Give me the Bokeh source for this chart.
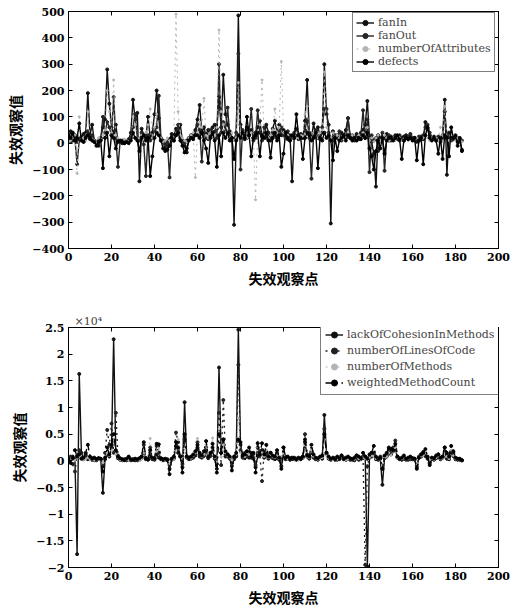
from bokeh.plotting import figure
from bokeh.layouts import column
from bokeh.models import (LinearAxis, FixedTicker, CustomJSTickFormatter, Range1d)
from bokeh.embed import file_html
from bokeh.resources import INLINE

# ---------------- data: top chart ----------------
x_top = list(range(0, 184))
fanIn = [20, 45, 10, 30, 5, 15, 25, 35, 40, 190,
         30, 70, 10, 5, -10, 20, 60, 90, 280, 150,
         60, 40, 70, 10, 5, 0, 10, 5, 15, 40,
         165, 90, 115, -145, 55, 30, 20, 100, 20, 40,
         110, 200, 95, 10, 5, -20, 0, 15, 35, 30,
         55, 40, 70, 10, -10, -35, 20, 30, 25, 50,
         90, 145, 40, 60, 35, 50, 25, 60, 70, 55,
         175, 60, 260, 110, 70, 45, 20, -310, 15, 485,
         70, 40, 15, 60, 30, 50, 20, 40, 60, 85,
         25, 30, 70, 40, 10, 55, 85, 40, 70, 30,
         50, 40, 15, 30, -145, 20, 55, 30, 35, 20,
         85, 240, 40, 20, 75, 25, 60, 30, 40, 300,
         110, 70, -305, 45, 20, 30, 15, 40, 25, 50,
         95, 30, 15, 20, 35, 25, 40, 50, 70, 160,
         20, 5, -40, -165, 30, 20, 15, 20, 35, 10,
         25, 20, 30, 15, 10, 20, 25, 30, 20, 35,
         15, 20, 5, 10, 25, 15, 80, 55, 30, 20,
         25, 10, 20, 5, 30, 165, -120, 40, 20, 15,
         20, 5, 10, -25]
fanOut = [10, 5, 30, 15, -80, 10, 20, 5, 25, 45,
          15, 30, 5, 0, 10, 15, 100, 40, 80, 60,
          30, 175, 20, -90, 5, 10, 0, 5, 10, 20,
          60, 110, 20, 10, 40, -5, -125, 30, 10, 20,
          50, 60, 180, 20, 10, -5, 5, -130, 20, 10,
          30, 70, 20, 5, 0, 10, 15, 20, 30, 40,
          70, 50, -70, 40, 20, 15, 50, 30, 45, 20,
          300, 40, 80, 50, 135, 30, 10, 15, 40, 340,
          -100, 50, 30, 20, 40, 130, 10, 20, 125, 40,
          10, 60, 20, 35, 25, 40, 30, 20, 45, 60,
          30, 20, 45, 10, 20, 40, 30, 15, 25, 30,
          50, 90, 20, -135, 30, 50, 20, 15, 60, 130,
          130, 40, 20, 10, 30, 20, 45, 10, 30, 20,
          95, 20, 30, 10, 25, 15, 30, 125, 20, 90,
          -110, 30, 10, 20, -30, 15, 40, -105, 20, 30,
          10, 15, 25, 20, 30, 15, 10, 20, 25, 30,
          20, 10, 15, 25, 20, 30, 60, 70, 40, 20,
          15, 20, 25, 10, 20, 120, 30, 20, 10, 20,
          15, 20, 5, 10]
numberOfAttributes = [5, 10, 20, 30, -115, 100, 15, 20, 10, 120,
                      20, 15, 10, 5, 20, 10, 30, 50, 200, 120,
                      40, 240, 30, 20, 10, 5, 15, 10, 5, 10,
                      100, 70, 10, 20, 30, 15, 40, 70, 130, 20,
                      60, 110, 40, 20, 5, 10, 20, 10, 15, 20,
                      490, 120, 30, 20, 10, 5, 20, 30, 40, -130,
                      40, 80, 60, 170, 30, 20, 40, 20, 30, 60,
                      430, 120, 70, 40, 30, 20, 40, 10, 20, 230,
                      20, 30, 40, 20, 30, 40, 20, -215, 40, 70,
                      240, 30, 40, 20, 30, 50, 130, 40, 60, 310,
                      40, 20, 30, 15, 20, 30, 40, 20, 30, 25,
                      110, 140, 30, 20, 40, 30, 20, 40, 50, 270,
                      60, 30, 20, 40, 20, 30, 20, 15, 30, 20,
                      40, 20, 30, 20, 15, 30, 20, 40, 30, 60,
                      10, 20, 5, 20, 30, 10, 20, 30, 20, 10,
                      15, 20, 10, 25, 20, 10, 15, 20, 10, 20,
                      10, 15, 20, 10, 15, 20, 30, 20, 10, 20,
                      15, 20, 10, 60, 30, 140, 20, 10, 60, 20,
                      10, 20, 10, 5]
defects = [30, 20, 40, 10, 20, 75, 10, 5, 20, 30,
           20, 10, 5, -10, 5, 10, -95, 20, 40, -50,
           30, 20, -20, 5, 10, 5, 0, 5, 0, 10,
           40, 20, 10, -30, 20, 30, 10, 20, -125, -50,
           20, 40, 30, 10, -20, -30, -25, -10, 20, 10,
           30, 40, 10, -10, -35, -20, 10, 20, 15, 30,
           30, 20, 40, 10, -20, -75, 20, 40, 10, -90,
           30, -50, 40, 20, 40, 10, 20, -60, 10, 30,
           20, 40, 20, 100, 30, -50, 20, 30, 40, -50,
           30, 20, 40, 10, -55, 20, 40, 10, 30, -90,
           -40, 40, 20, 10, 30, 20, 110, 30, 20, -60,
           20, 40, 30, 10, 20, 40, -95, 20, 10, 40,
           20, 30, 10, -65, 20, -30, 10, 20, 30, 10,
           30, 20, 10, 20, 10, 20, 15, 30, 20, 40,
           -20, -50, -100, -30, 10, -20, 20, -40, 10, 20,
           20, 10, 20, 30, 15, -60, 10, 20, 15, 20,
           10, 20, -65, 10, 20, -80, 30, 60, 20, 10,
           20, 10, -40, 20, -60, 30, 20, -50, 60, 20,
           30, -10, 20, -30]

# ---------------- data: bottom chart ----------------
x_bot = list(range(0, 184))
lackOfCohesionInMethods = [500, 200, 800, 300, -17500, 16300, 1500, 400, 900, 300,
                           600, 200, 100, 300, 500, 200, -6000, 300, 1200, 800,
                           2500, 22800, 1800, 500, 200, 100, 300, 100, 600, 200,
                           300, 100, 200, 400, 800, 1500, 300, 200, 900, 400,
                           200, 1200, 600, 300, 100, 200, 300, -1500, 200, 400,
                           2800, 1500, 800, -1200, 11000, 600, 300, 500, 800, 1000,
                           2500, 800, 600, 1200, 2000, 500, 900, 1800, 400, -1500,
                           17500, 1500, 4000, 800, 1200, 500, -1000, 300, 800, 24600,
                           3000, 800, 500, 1200, 600, 1500, 400, -1200, 800, 1500,
                           2000, 600, 1800, 400, 800, 500, 300, 600, 200, -1000,
                           900, 300, 500, 200, 400, 300, 200, 400, 300, 600,
                           3500, 800, 400, 1800, 600, 300, 200, 500, 400, 8600,
                           1500, 400, 200, 300, 500, 200, 400, 600, 300, 200,
                           400, 200, 300, 100, 600, 200, 300, 500, 800, -19800,
                           600, 800, 1500, 300, 200, 400, -4500, 500, 800, 1500,
                           1200, 1800, 2200, 600, 300, 200, 400, 300, 200, 500,
                           300, 200, -1200, 600, 800, 1200, 900, 400, -500, 300,
                           200, 500, 800, 300, 600, 1800, 400, 300, 1500, 900,
                           300, 200, 400, 100]
numberOfLinesOfCode = [200, 800, -600, -2000, 1000, 2000, 500, 300, 1200, 600,
                       300, 500, 200, 100, 400, 300, -1000, 1500, 5800, 3000,
                       7000, 1500, 9000, 1000, 300, 200, 100, 300, 200, 100,
                       200, 300, 100, 200, 500, 3000, 400, 600, 2500, 300,
                       500, 2800, 1500, 400, 200, 300, 100, -800, 300, 600,
                       5300, 3500, 1000, -600, 4000, 800, 500, 400, 600, 1200,
                       3500, 1200, 800, 900, 2500, 600, 1000, 2500, 800, -600,
                       9000, -800, 11400, 1200, 800, 400, -500, 600, 1000, 18000,
                       2000, 600, 1500, 800, 1500, 600, 1200, -800, 2500, 1000,
                       -3800, 1500, 1000, 800, 1500, 600, 800, 1500, 300, 600,
                       2500, 800, 400, 500, 300, 600, 400, 300, 500, 800,
                       5000, 1200, 600, 1500, 800, 400, 300, 600, 800, 6000,
                       1200, 600, 300, 400, 200, 500, 300, 1000, 500, 300,
                       500, 300, 200, 400, 1000, 300, 400, 800, -19500, -1000,
                       800, 1500, 1200, 600, 400, 800, -1500, 800, 1000, 2200,
                       1500, 2500, 3800, 800, 400, 300, 600, 200, 400, 300,
                       500, 400, -800, 800, 1200, 1700, 1400, 600, -300, 500,
                       400, 800, 1200, 500, 800, 2500, 1200, 600, 1800, 1500,
                       500, 300, 200, 100]
numberOfMethods = [100, 300, 200, 100, 500, 800, 300, 200, 400, 600,
                   200, 300, 100, 200, 300, 100, -300, 500, 1500, 1000,
                   2000, 3000, 1200, 600, 200, 100, 300, 200, 100, 200,
                   100, 300, 200, 100, 300, 1500, 600, 800, 4200, 500,
                   300, 1800, 2500, 600, 200, 100, 300, -500, 200, 300,
                   2000, 4000, 1200, 400, 3000, 600, 800, 500, 1000, 1500,
                   4200, 1500, 800, 1200, 3000, 800, 1500, 4300, 600, -300,
                   6000, 800, 3000, 1500, 1000, 600, 200, 800, 1200, 8000,
                   1500, 1000, 800, 1500, 1200, 800, 1500, 600, 3500, 1200,
                   1500, 800, 2000, 600, 1200, 800, 600, 1000, 400, 800,
                   1500, 600, 300, 400, 600, 300, 500, 200, 400, 600,
                   3000, 800, 600, 2000, 800, 500, 300, 400, 600, 4000,
                   1000, 500, 300, 200, 400, 300, 600, 500, 400, 200,
                   300, 400, 200, 300, 800, 400, 300, 600, 400, 200,
                   600, 1000, 800, 400, 300, 500, -800, 600, 800, 1500,
                   1000, 1800, 2500, 600, 300, 400, 500, 300, 400, 600,
                   400, 300, -500, 500, 900, 1000, 1500, 800, 200, 400,
                   300, 600, 900, 400, 600, 1500, 800, 400, 2000, 1000,
                   400, 300, 200, 100]
weightedMethodCount = [300, -400, 500, 2000, 800, 1200, 400, 600, 1500, 3000,
                       800, 400, 600, 300, 500, 400, -2000, 600, 2500, 1200,
                       3000, 5000, 2000, 800, 500, 300, 200, 400, 800, 300,
                       200, 400, 300, 500, 800, 3500, 500, 300, 2000, 600,
                       400, 3200, 3100, 500, 300, 400, 200, -2500, 400, 800,
                       3500, 2500, 800, -2200, 5000, 800, 600, 800, 1200, 1800,
                       3000, 1500, 1000, 1800, 3700, 800, 1500, 3200, 800, -2200,
                       5000, 1500, 4000, 1800, 1200, 800, -1800, 800, 1500, 4000,
                       3500, 1000, 1200, 1800, 2500, 800, 1500, -2200, 3300, 1200,
                       3300, 1200, 3000, 800, 1500, 1000, 800, 2000, 600, -1500,
                       2500, 600, 800, 400, 600, 500, 300, 600, 400, 800,
                       4000, 1000, 800, 3000, 1200, 600, 500, 800, 1000, 5000,
                       1500, 800, 400, 600, 300, 800, 500, 1000, 400, 600,
                       800, 500, 300, 600, 1000, 800, 500, 1500, 800, 400,
                       1200, 1500, 2800, 800, 400, 600, -1500, 1000, 1500, 2500,
                       2200, 2000, 3200, 800, 400, 600, 1000, 400, 600, 800,
                       500, 400, -1500, 600, 1200, 1500, 2200, 800, -800, 600,
                       500, 1000, 1200, 600, 800, 2500, 1500, 800, 2800, 1800,
                       600, 400, 300, 100]

x_ticks = [0, 20, 40, 60, 80, 100, 120, 140, 160, 180, 200]
y_ticks_top = [-400, -300, -200, -100, 0, 100, 200, 300, 400, 500]
y_ticks_bot = [-20000, -15000, -10000, -5000, 0, 5000, 10000, 15000, 20000, 25000]

SERIF = "DejaVu Serif"
CJK = "Noto Sans CJK SC"

minus_fmt = CustomJSTickFormatter(code="return tick < 0 ? '\\u2212' + Math.abs(tick) : '' + tick;")
e4_fmt = CustomJSTickFormatter(code="const v = tick/1e4; return v < 0 ? '\\u2212' + Math.abs(v) : '' + v;")
blank_fmt = CustomJSTickFormatter(code="return '';")


def style(p, yticks, yfmt):
    p.xgrid.visible = False
    p.ygrid.visible = False
    p.outline_line_color = "black"
    p.outline_line_width = 1
    p.background_fill_color = "white"
    p.border_fill_color = "white"
    p.xaxis.ticker = FixedTicker(ticks=x_ticks)
    p.yaxis.ticker = FixedTicker(ticks=yticks)
    p.xaxis.formatter = minus_fmt
    p.yaxis.formatter = yfmt
    for ax in (p.xaxis[0], p.yaxis[0]):
        ax.major_tick_in = 4
        ax.major_tick_out = 0
        ax.minor_tick_in = 0
        ax.minor_tick_out = 0
        ax.axis_line_color = "black"
        ax.major_label_text_font = SERIF
        ax.major_label_text_font_style = "bold"
        ax.major_label_text_font_size = "11px"
        ax.major_label_text_color = "black"
        ax.axis_label_text_font = CJK
        ax.axis_label_text_font_style = "bold"
        ax.axis_label_text_font_size = "14px"
        ax.axis_label_text_color = "black"
        ax.major_label_standoff = 4
        ax.axis_label_standoff = 4
    p.xaxis.axis_label = "失效观察点"
    p.yaxis.axis_label = "失效观察值"
    # mirrored ticks on top and right (no labels)
    for loc in ("above", "right"):
        ax = LinearAxis(ticker=FixedTicker(ticks=(x_ticks if loc == "above" else yticks)),
                        formatter=blank_fmt, major_label_standoff=0,
                        major_label_text_font_size="1px",
                        major_tick_in=4, major_tick_out=0, minor_tick_in=0, minor_tick_out=0,
                        axis_line_color="black")
        p.add_layout(ax, loc)


def style_legend(lg, x, y, row_h, spacing, padding):
    lg.location = (x, y)
    lg.border_line_color = "black"
    lg.border_line_width = 1
    lg.background_fill_alpha = 1
    lg.label_text_font = SERIF
    lg.label_text_font_size = "11px"
    lg.label_height = row_h
    lg.glyph_height = row_h
    lg.glyph_width = 18
    lg.spacing = spacing
    lg.padding = padding
    lg.margin = 0
    lg.label_standoff = 4


# ---------------- top figure ----------------
p1 = figure(width=528, height=300, output_backend="svg", toolbar_location=None,
            x_range=Range1d(0, 200), y_range=Range1d(-400, 500),
            min_border_left=68, min_border_right=25, min_border_top=11, min_border_bottom=52)
style(p1, y_ticks_top, minus_fmt)

top_series = [
    ("fanIn", fanIn, "#111111", "solid", 1.4, 3),
    ("fanOut", fanOut, "#262626", "solid", 1.4, 3),
    ("numberOfAttributes", numberOfAttributes, "#b4b4b4", "dotted", 1.0, 2),
    ("defects", defects, "#000000", "solid", 1.4, 3),
]
for name, ys, col, dash, lw, ms in top_series:
    p1.line(x_top, ys, line_color=col, line_dash=dash, line_width=lw, legend_label=name)
    p1.scatter(x_top, ys, marker="circle", size=ms, color=col, legend_label=name)

style_legend(p1.legend[0], 284, 176, 13, 0, 3)

# ---------------- bottom figure ----------------
p2 = figure(width=528, height=309, output_backend="svg", toolbar_location=None,
            x_range=Range1d(0, 200), y_range=Range1d(-20000, 25000),
            min_border_left=64, min_border_right=30, min_border_top=27, min_border_bottom=39,
            title="×10⁴")
p2.title.text_font = SERIF
p2.title.text_font_style = "normal"
p2.title.text_font_size = "11px"
p2.title.align = "left"
p2.title.offset = 6
p2.title.standoff = 0
style(p2, y_ticks_bot, e4_fmt)

bot_series = [
    ("lackOfCohesionInMethods", lackOfCohesionInMethods, "#111111", "solid", 1.4, 3),
    ("numberOfLinesOfCode", numberOfLinesOfCode, "#222222", "dotted", 1.4, 3),
    ("numberOfMethods", numberOfMethods, "#b4b4b4", "dotted", 1.0, 2),
    ("weightedMethodCount", weightedMethodCount, "#000000", "dashdot", 1.4, 3),
]
for name, ys, col, dash, lw, ms in bot_series:
    p2.line(x_bot, ys, line_color=col, line_dash=dash, line_width=lw, legend_label=name)
    p2.scatter(x_bot, ys, marker="circle", size=ms, color=col, legend_label=name)

style_legend(p2.legend[0], 252, 172, 15, 1, 4)

layout = column(p1, p2, spacing=0)
open("out.html", "w").write(file_html(layout, INLINE))
